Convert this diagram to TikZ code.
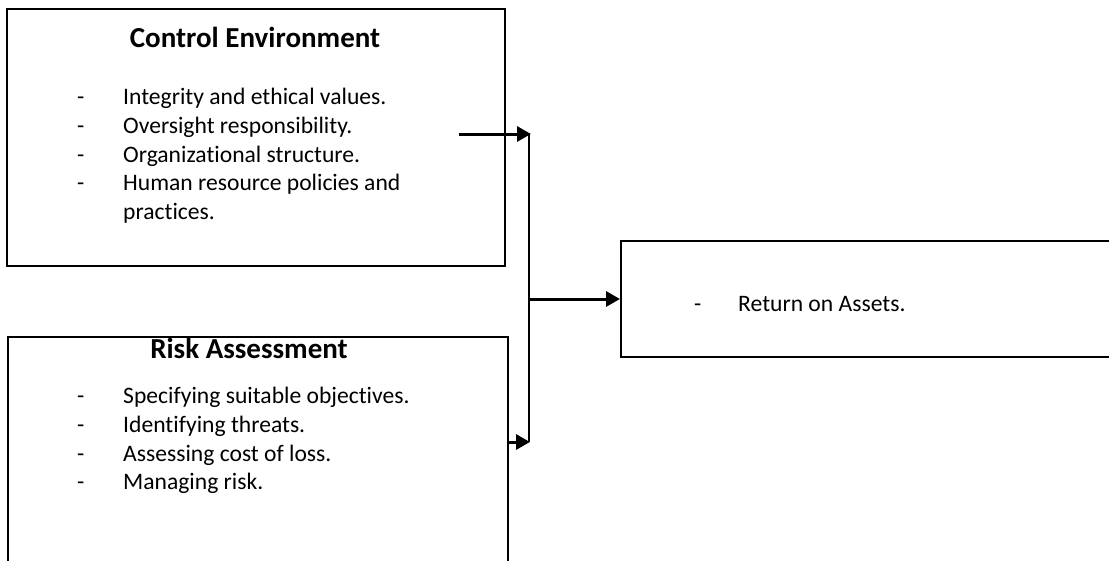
\documentclass[tikz,border=0pt]{standalone}
\usepackage{fontspec}
\setmainfont{Carlito}[Ligatures=NoCommon]
\usetikzlibrary{arrows.meta}

\begin{document}
\begin{tikzpicture}[x=1pt, y=-1pt]
\tikzset{cadre/.style={draw, line width=2pt, inner sep=0pt},
  titre/.style={anchor=base, font=\fontsize{29}{34}\selectfont\bfseries},
  puce/.style={anchor=base west, inner sep=0pt, font=\fontsize{23.6}{29}\selectfont},
  fleche/.style={line width=3pt, -{Triangle[length=14pt, width=15pt]}}}
\useasboundingbox (0, 0) rectangle (1109, 560);
\clip (0, 0) rectangle (1109, 560);
\node[cadre, minimum width=498pt, minimum height=257pt] (C1) at (256, 137.5) {};
\node[cadre, minimum width=500pt, minimum height=263pt] (R1) at (258, 468.5) {};
\node[cadre, minimum width=519pt, minimum height=116pt] (A1) at (880.5, 299) {};
\node[titre] (CT) at (255, 47) {Control Environment};
\node[puce] (C2) at (77, 104) {-};
\node[puce] (C3) at (123, 104) {Integrity and ethical values.};
\node[puce] (C4) at (77, 133) {-};
\node[puce] (C5) at (123, 133) {Oversight responsibility.};
\node[puce] (C6) at (77, 162) {-};
\node[puce] (C7) at (123, 162) {Organizational structure.};
\node[puce] (C8) at (77, 190) {-};
\node[puce] (C9) at (123, 190) {Human resource policies and};
\node[puce] (C10) at (123, 219) {practices.};
\node[titre] (RT) at (249, 358) {Risk Assessment};
\node[puce] (R2) at (77, 403) {-};
\node[puce] (R3) at (123, 403) {Specifying suitable objectives.};
\node[puce] (R4) at (77, 432) {-};
\node[puce] (R5) at (123, 432) {Identifying threats.};
\node[puce] (R6) at (77, 461) {-};
\node[puce] (R7) at (123, 461) {Assessing cost of loss.};
\node[puce] (R8) at (77, 489) {-};
\node[puce] (R9) at (123, 489) {Managing risk.};
\node[puce] (A2) at (694, 311) {-};
\node[puce] (A3) at (738, 311) {Return on Assets.};
\coordinate (D) at (459, 134);
\coordinate (J1) at (529, 134);
\coordinate (J2) at (529, 442);
\draw[fleche] (D) -- ([xshift=2pt]J1);
\draw[line width=2pt] (J1) -- (J2);
\draw[fleche] (R1.east |- J2) -- ([xshift=1pt]J2);
\draw[fleche] (A1.west -| J1) -- (A1.west);
\end{tikzpicture}
\end{document}
